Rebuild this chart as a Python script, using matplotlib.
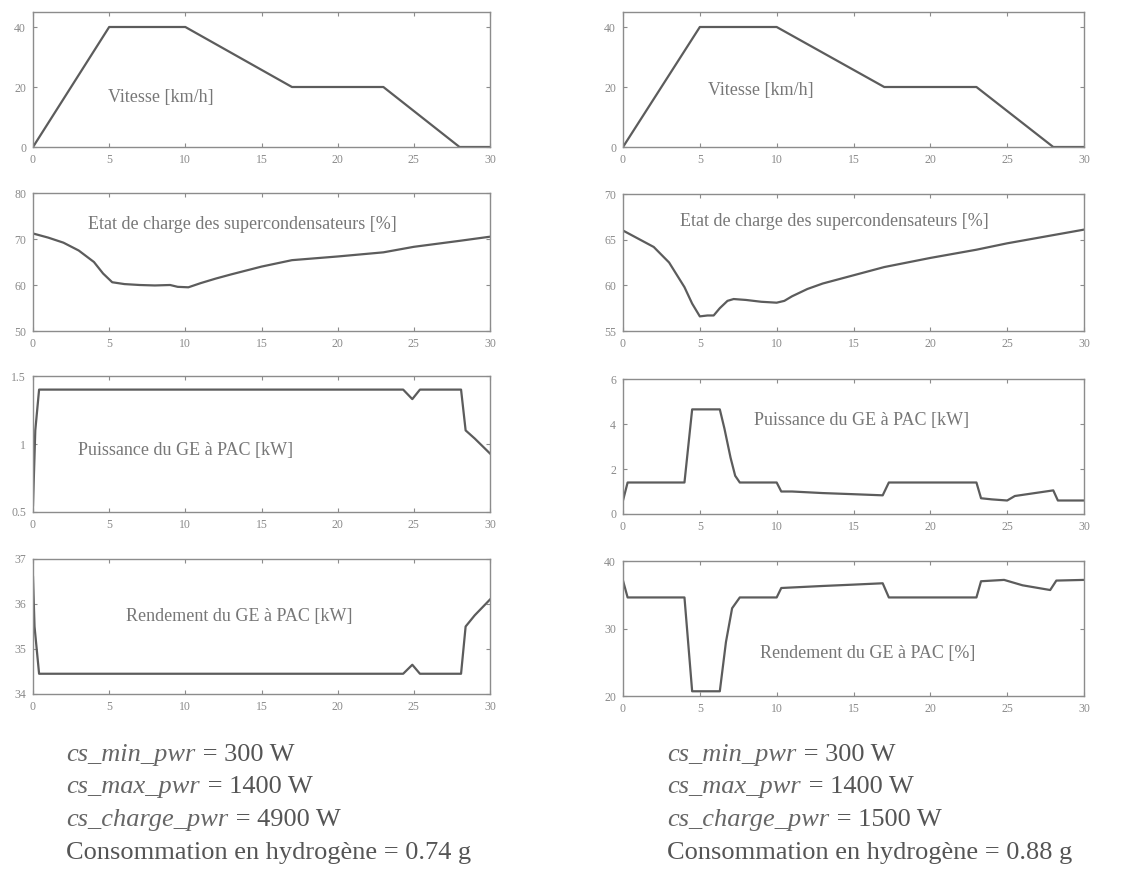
import matplotlib
matplotlib.use("Agg")
import matplotlib.pyplot as plt

# ---------------- data ----------------
speed_t = [0, 5, 10, 17, 23, 28, 30]
speed_v = [0, 40, 40, 20, 20, 0, 0]

soc1_t = [0, 1, 2, 3, 4, 4.6, 5.2, 6, 7, 8, 9, 9.5, 10.2, 11, 12, 13, 15, 17, 20, 23, 25, 28, 30]
soc1_v = [71.2, 70.3, 69.2, 67.5, 65, 62.5, 60.6, 60.2, 60, 59.9, 60, 59.6, 59.5, 60.4, 61.4,
          62.3, 64, 65.4, 66.2, 67.1, 68.3, 69.6, 70.5]

soc2_t = [0, 1, 2, 3, 4, 4.5, 5, 5.5, 5.9, 6.3, 6.8, 7.2, 8, 9, 10, 10.5, 11, 12, 13, 15,
          17, 20, 23, 25, 28, 30]
soc2_v = [66, 65.1, 64.2, 62.5, 59.8, 58, 56.6, 56.7, 56.7, 57.5, 58.3, 58.5, 58.4, 58.2,
          58.1, 58.3, 58.8, 59.6, 60.2, 61.1, 62, 63, 63.9, 64.6, 65.5, 66.1]

pw1_t = [0, 0.15, 0.4, 24.3, 24.9, 25.4, 28.1, 28.4, 29, 30]
pw1_v = [0.55, 1.1, 1.4, 1.4, 1.33, 1.4, 1.4, 1.1, 1.04, 0.93]

ef1_t = [0, 0.1, 0.4, 24.3, 24.9, 25.4, 28.1, 28.4, 29, 30]
ef1_v = [36.6, 35.5, 34.45, 34.45, 34.65, 34.45, 34.45, 35.5, 35.75, 36.1]

pw2_t = [0, 0.3, 4.0, 4.5, 6.3, 6.6, 7.0, 7.3, 7.6, 10, 10.3, 11, 13, 15, 16.9, 17.3, 23,
         23.3, 24, 25, 25.5, 27, 28, 28.3, 30]
pw2_v = [0.6, 1.4, 1.4, 4.65, 4.65, 3.8, 2.5, 1.7, 1.4, 1.4, 1.0, 1.0, 0.93, 0.88, 0.83,
         1.4, 1.4, 0.7, 0.65, 0.6, 0.8, 0.95, 1.05, 0.6, 0.6]

ef2_t = [0, 0.3, 4.0, 4.5, 6.3, 6.7, 7.1, 7.6, 10, 10.3, 13, 15, 16.9, 17.3, 23, 23.3,
         24.8, 26, 27.8, 28.2, 30]
ef2_v = [37.1, 34.6, 34.6, 20.7, 20.7, 28, 33, 34.6, 34.6, 36, 36.3, 36.5, 36.7, 34.6,
         34.6, 37.0, 37.2, 36.4, 35.7, 37.1, 37.2]

xticks = [0, 5, 10, 15, 20, 25, 30]

labels_left = ["Vitesse [km/h]", "Etat de charge des supercondensateurs [%]",
               "Puissance du GE à PAC [kW]", "Rendement du GE à PAC [kW]"]
labels_right = ["Vitesse [km/h]", "Etat de charge des supercondensateurs [%]",
                "Puissance du GE à PAC [kW]", "Rendement du GE à PAC [%]"]

params_names = ["cs_min_pwr", "cs_max_pwr", "cs_charge_pwr"]
params_left = ["300 W", "1400 W", "4900 W"]
params_right = ["300 W", "1400 W", "1500 W"]
conso_left = "0.74 g"
conso_right = "0.88 g"

# ---------------- figure ----------------
W, H = 1146, 871
fig = plt.figure(figsize=(W / 100, H / 100), dpi=100)
fig.patch.set_facecolor("white")

def px_axes(x0, x1, y0, y1):
    return fig.add_axes([x0 / W, 1 - y1 / H, (x1 - x0) / W, (y1 - y0) / H])

LINE_C = "#5c5c5c"
FRAME_C = "#8c8c8c"
TICK_C = "#8a8a8a"
LBL_C = "#777777"
SERIF = ["Liberation Serif", "DejaVu Serif"]

def style(ax, ylim, yticks):
    ax.set_xlim(0, 30)
    ax.set_ylim(*ylim)
    ax.set_xticks(xticks)
    ax.set_yticks(yticks)
    ax.set_yticklabels([("%g" % v) for v in yticks])
    ax.tick_params(direction="in", length=3, width=0.8, colors=FRAME_C,
                   top=True, right=True, labelsize=8.5, labelcolor=TICK_C, pad=5)
    for lab in ax.get_xticklabels() + ax.get_yticklabels():
        lab.set_family(SERIF)
    for s in ax.spines.values():
        s.set_color(FRAME_C)
        s.set_linewidth(1.0)

left_rows = [(12, 147), (193, 331), (376, 512), (559, 694)]
right_rows = [(12, 147), (194, 331), (379, 514), (561, 696)]

# left column
a1 = px_axes(33, 490, *left_rows[0])
a1.plot(speed_t, speed_v, color=LINE_C, lw=1.6)
style(a1, (0, 45), [0, 20, 40])
a2 = px_axes(33, 490, *left_rows[1])
a2.plot(soc1_t, soc1_v, color=LINE_C, lw=1.6)
style(a2, (50, 80), [50, 60, 70, 80])
a3 = px_axes(33, 490, *left_rows[2])
a3.plot(pw1_t, pw1_v, color=LINE_C, lw=1.6)
style(a3, (0.5, 1.5), [0.5, 1, 1.5])
a4 = px_axes(33, 490, *left_rows[3])
a4.plot(ef1_t, ef1_v, color=LINE_C, lw=1.6)
style(a4, (34, 37), [34, 35, 36, 37])

# right column
b1 = px_axes(623, 1084, *right_rows[0])
b1.plot(speed_t, speed_v, color=LINE_C, lw=1.6)
style(b1, (0, 45), [0, 20, 40])
b2 = px_axes(623, 1084, *right_rows[1])
b2.plot(soc2_t, soc2_v, color=LINE_C, lw=1.6)
style(b2, (55, 70), [55, 60, 65, 70])
b3 = px_axes(623, 1084, *right_rows[2])
b3.plot(pw2_t, pw2_v, color=LINE_C, lw=1.6)
style(b3, (0, 6), [0, 2, 4, 6])
b4 = px_axes(623, 1084, *right_rows[3])
b4.plot(ef2_t, ef2_v, color=LINE_C, lw=1.6)
style(b4, (20, 40), [20, 30, 40])

lpos_left = [(0.28, 0.365), (0.458, 0.775), (0.333, 0.45), (0.451, 0.575)]
lpos_right = [(0.30, 0.415), (0.459, 0.80), (0.518, 0.69), (0.531, 0.316)]
for ax, lab, (fx, fy) in zip([a1, a2, a3, a4], labels_left, lpos_left):
    ax.text(fx, fy, lab, transform=ax.transAxes, ha="center", va="center",
            fontsize=13, color=LBL_C, family=SERIF)
for ax, lab, (fx, fy) in zip([b1, b2, b3, b4], labels_right, lpos_right):
    ax.text(fx, fy, lab, transform=ax.transAxes, ha="center", va="center",
            fontsize=13, color=LBL_C, family=SERIF)

# bottom parameter text
renderer = fig.canvas.get_renderer()
baselines = [761, 793, 826, 859]
FS = 19
TXT_C = "#555555"
IT_C = "#666666"

def param_block(x0, values, conso):
    for name, val, yb in zip(params_names, values, baselines[:3]):
        t1 = fig.text(x0 / W, 1 - yb / H, name, fontsize=FS, style="italic",
                      family=SERIF, color=IT_C, va="baseline", ha="left")
        bb = t1.get_window_extent(renderer=renderer)
        fig.text((bb.x1 + 1) / W, 1 - yb / H, " = " + val, fontsize=FS,
                 family=SERIF, color=TXT_C, va="baseline", ha="left")
    fig.text(x0 / W, 1 - baselines[3] / H, "Consommation en hydrogène = " + conso,
             fontsize=FS, family=SERIF, color=TXT_C, va="baseline", ha="left")

param_block(66, params_left, conso_left)
param_block(667, params_right, conso_right)

fig.savefig("out.png", dpi=100, facecolor="white")
